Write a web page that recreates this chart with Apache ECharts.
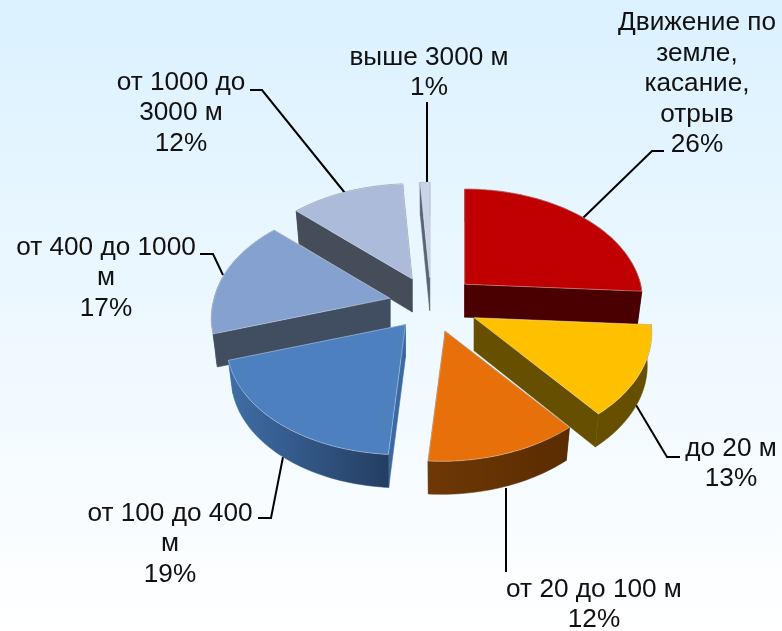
<!DOCTYPE html>
<html><head><meta charset="utf-8">
<style>html,body{margin:0;padding:0;background:#fff}#c{width:782px;height:631px}</style>
<script src="https://cdn.jsdelivr.net/npm/echarts@6/dist/echarts.min.js"></script>
</head><body><div id="c"></div>
<script>
const categories = ['Движение по\nземле,\nкасание,\nотрыв','до 20 м','от 20 до 100 м','от 100 до 400\nм','от 400 до 1000\nм','от 1000 до\n3000 м','выше 3000 м'];
const percents = [26,13,12,19,17,12,1];
const topColors = ['#c00000','#ffc000','#e8700a','#4d80bf','#85a1cf','#adbbda','#c9d4e8'];
const radialColors = ['#4a0000','#665000','#5e2e02','#3b6aa3','#414e62','#454c5a','#5a6474'];
const wallLeft = ['#4a0000','#665000','#6e3806','#3f6ea6','#414e62','#454c5a','#5a6474'];
const wallRight = ['#4a0000','#665000','#5a2c00','#243e62','#414e62','#454c5a','#5a6474'];
const explode = [0.27,0.27,0.25,0.23,0.24,0.26,0.25];
const paintOrder = [6,5,0,4,1,3,2];
const labelAnchors = [[697,84],[731,464],[594,605],[170,544],[106,278],[181,113],[429,73]];
const leaders = [
  [[664,151],[652,151],[583,218]],
  [[636,405],[667,457],[680,457]],
  [[506,488],[506,572]],
  [[283,457],[271,518],[258,518]],
  [[200,254],[213,254],[223,275]],
  [[345,193],[262,90],[250,90]],
  [[427,102],[427,182]]
];
const CX=431, CY=304, RX=176, RY=110, K=0.155, H=33, BOTTOM_X=0.975, SKEW=4;

function sc(v){ return 1/(1-K*v); }
const total = percents.reduce((a,b)=>a+b,0);
function sliceFaces(i){
  let before=0; for(let j=0;j<i;j++) before+=percents[j];
  const a0=before/total*2*Math.PI, a1=(before+percents[i])/total*2*Math.PI, m=(a0+a1)/2;
  const ev=-Math.cos(m)*explode[i], eu=Math.sin(m)*explode[i], es=sc(ev);
  const ax=CX+RX*eu*es, ay=CY+RY*ev*es;
  const n=Math.max(4,Math.round(percents[i]*2.5));
  const top=[], bot=[];
  for(let t=0;t<=n;t++){
    const a=a0+(a1-a0)*t/n, u=Math.sin(a), v=-Math.cos(a), s=sc(v), sk=SKEW*Math.max(v,0);
    top.push([ax+RX*u*s-sk, ay+RY*v*s]);
    bot.push([ax+RX*u*s*BOTTOM_X-sk, ay+RY*v*s+H]);
  }
  return {top,bot,c0:[ax,ay],c1:[ax,ay+H]};
}
function renderItem(params){
  const i=params.dataIndex, f=sliceFaces(i), rank=paintOrder.indexOf(i)*10+10;
  const last=f.top.length-1;
  const xs=f.top.map(p=>p[0]), xmin=Math.min(...xs), xmax=Math.max(...xs);
  const poly=(points,fill,z,stroke)=>({type:'polygon',z2:rank+z,silent:true,shape:{points},
     style:{fill,stroke:stroke||fill,lineWidth:stroke?1:0.5}});
  return {type:'group',children:[
    poly([f.c0,f.top[0],f.bot[0],f.c1],radialColors[i],0),
    poly([f.c0,f.top[last],f.bot[last],f.c1],radialColors[i],1),
    poly(f.top.concat(f.bot.slice().reverse()),{
      type:'linear',global:true,x:xmin,y:0,x2:xmax,y2:0,
      colorStops:[{offset:0,color:wallLeft[i]},{offset:1,color:wallRight[i]}]},2),
    poly([f.c0].concat(f.top),topColors[i],3,'rgba(255,255,255,0.35)')
  ]};
}
const graphic=[];
categories.forEach((c,i)=>{
  graphic.push({type:'text',x:labelAnchors[i][0],y:labelAnchors[i][1],z:20,silent:true,
    style:{text:c+'\n'+percents[i]+'%',font:'26.2px "Liberation Sans"',fill:'#111111',
      align:'center',verticalAlign:'middle',lineHeight:30.5}});
  graphic.push({type:'polyline',z:1,silent:true,shape:{points:leaders[i]},
    style:{stroke:'#000',lineWidth:2,fill:'none'}});
});
const chart=echarts.init(document.getElementById('c'),null,{renderer:'canvas'});
chart.setOption({
  animation:false,
  backgroundColor:{type:'linear',x:0,y:0,x2:0,y2:1,colorStops:[{offset:0,color:'#dbf1ff'},{offset:1,color:'#ffffff'}]},
  xAxis:{show:false,min:0,max:1},yAxis:{show:false,min:0,max:1},
  grid:{left:0,right:0,top:0,bottom:0},
  graphic,
  series:[{type:'custom',coordinateSystem:'none',z:5,renderItem,
    data:categories.map((c,i)=>({name:c.replace(/\n/g,' '),value:percents[i]}))}]
});
</script></body></html>
